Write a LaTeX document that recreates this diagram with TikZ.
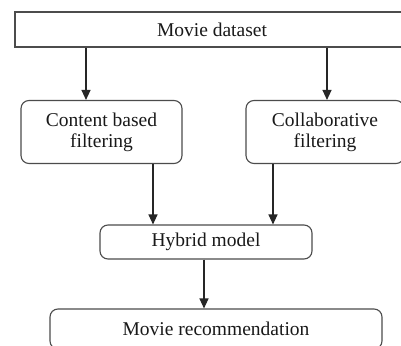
\documentclass[tikz,border=0pt]{standalone}
\usepackage{fontspec}
\setmainfont{Liberation Serif}
\usetikzlibrary{arrows.meta}
\begin{document}
\begin{tikzpicture}[x=1pt,y=-1pt,
  every node/.style={font=\fontsize{19.5}{21}\selectfont, text=black!90, align=center, inner sep=0pt},
  boxsq/.style={draw=black!70, line width=1.1pt, rectangle},
  boxrd/.style={draw=black!70, line width=1.1pt, rectangle, rounded corners=8pt},
  arr/.style={draw=black!85, line width=1.2pt, -{Triangle[length=10pt,width=9pt]}}]
\useasboundingbox (0,0) rectangle (401,345);
\clip (0,0) rectangle (401,345);
\fill[white] (0,0) rectangle (401,345);
\node[boxsq, minimum width=394pt, minimum height=35pt] (data) at (212,29.5) {Movie dataset};
\node[boxrd, minimum width=161pt, minimum height=63pt] (cbf) at (101.5,132) {Content based\\filtering};
\node[boxrd, minimum width=158pt, minimum height=63pt] (cf) at (325,132) {Collaborative\\filtering};
\node[boxrd, minimum width=212pt, minimum height=34pt] (hyb) at (206,242) {Hybrid model};
\node[boxrd, minimum width=332pt, minimum height=40pt] (rec) at (216,329) {Movie recommendation};
\coordinate (a1) at (86,0);
\coordinate (a2) at (327,0);
\coordinate (a3) at (153,0);
\coordinate (a4) at (273,0);
\coordinate (a5) at (204,0);
\draw[arr] (data.south -| a1) -- (cbf.north -| a1);
\draw[arr] (data.south -| a2) -- (cf.north -| a2);
\draw[arr] (cbf.south -| a3) -- (hyb.north -| a3);
\draw[arr] (cf.south -| a4) -- (hyb.north -| a4);
\draw[arr] (hyb.south -| a5) -- (rec.north -| a5);
\end{tikzpicture}
\end{document}
